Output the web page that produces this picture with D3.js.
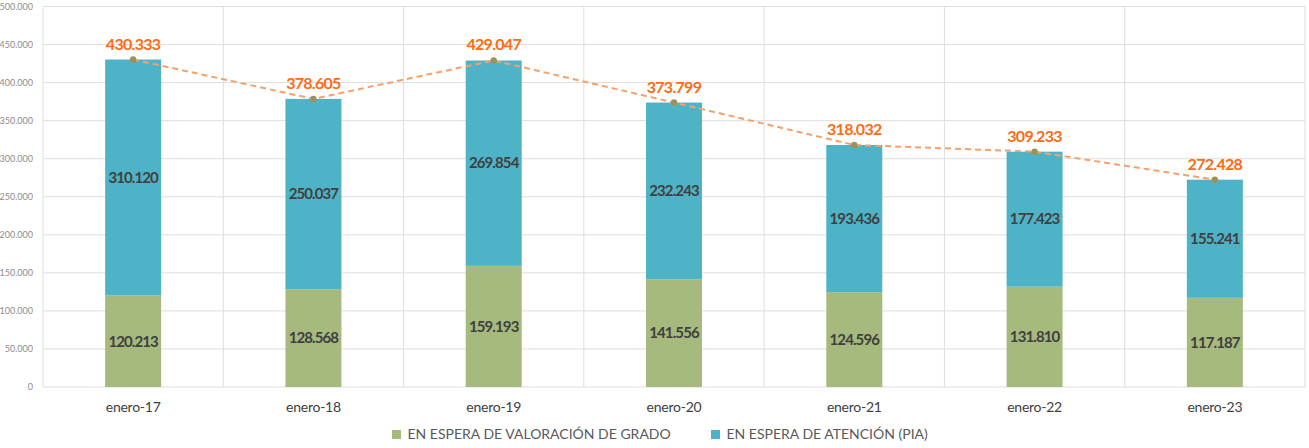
<!DOCTYPE html>
<html><head><meta charset="utf-8">
<script src="https://cdn.jsdelivr.net/npm/d3@7"></script>
<style>body{margin:0;background:#fff}svg{display:block}</style>
</head><body>
<svg id="c" width="1309" height="448"></svg>
<script>
const categories = ["enero-17","enero-18","enero-19","enero-20","enero-21","enero-22","enero-23"];
const valoracion = [120213,128568,159193,141556,124596,131810,117187];
const atencion = [310120,250037,269854,232243,193436,177423,155241];
const totals = [430333,378605,429047,373799,318032,309233,272428];
const yTicks = [0,50000,100000,150000,200000,250000,300000,350000,400000,450000,500000];
const seriesNames = ["EN ESPERA DE VALORACIÓN DE GRADO","EN ESPERA DE ATENCIÓN (PIA)"];

const colors = ["#A6BA7E","#4FB3C7"];
const fmt = v => d3.format(",")(v).replace(/,/g,".");
const svg = d3.select("#c");
const L=43,R=1305,T=6.5,B=387;
const x = d3.scaleBand().domain(categories).range([L,R]);
const y = d3.scaleLinear().domain([0,500000]).range([B,T]);
const bw = 56;
const font = "Lato, 'Open Sans', sans-serif";

// horizontal grid
svg.append("g").selectAll("line").data(yTicks).join("line")
  .attr("x1",L).attr("x2",R).attr("y1",d=>y(d)).attr("y2",d=>y(d))
  .attr("stroke","#dedede").attr("stroke-width",1);
// vertical grid at band boundaries
const bounds = categories.map(c=>x(c)).concat([R]);
svg.append("g").selectAll("line").data(bounds).join("line")
  .attr("x1",d=>d).attr("x2",d=>d).attr("y1",T).attr("y2",B)
  .attr("stroke","#dedede").attr("stroke-width",1);

// y axis labels
const yAxis = d3.axisLeft(y).tickValues(yTicks).tickFormat(fmt).tickSize(0).tickPadding(10);
const ga = svg.append("g").attr("transform",`translate(${L},0)`).call(yAxis);
ga.select(".domain").remove();
ga.selectAll("text").attr("font-family",font).attr("font-size",9).attr("fill","#8c8c8c");

// x axis labels
const xAxis = d3.axisBottom(x).tickSize(0).tickPadding(15);
const gx = svg.append("g").attr("transform",`translate(0,${B})`).call(xAxis);
gx.select(".domain").remove();
gx.selectAll("text").attr("font-family",font).attr("font-size",14).attr("letter-spacing","-0.25px").attr("fill","#404040");

const cx = c => x(c)+x.bandwidth()/2;
// bars
const data = categories.map((c,i)=>({c,a:valoracion[i],b:atencion[i],t:totals[i]}));
const g = svg.append("g");
g.selectAll(".ba").data(data).join("rect")
  .attr("x",d=>cx(d.c)-bw/2).attr("width",bw)
  .attr("y",d=>y(d.a)).attr("height",d=>y(0)-y(d.a)).attr("fill",colors[0]);
g.selectAll(".bb").data(data).join("rect")
  .attr("x",d=>cx(d.c)-bw/2).attr("width",bw)
  .attr("y",d=>y(d.a+d.b)).attr("height",d=>y(d.a)-y(d.a+d.b)).attr("fill",colors[1]);

// segment labels
function segLabels(sel, val, mid){
  sel.attr("x",d=>cx(d.c)).attr("y",mid).attr("dy","0.35em")
    .attr("text-anchor","middle").attr("font-family",font).attr("font-size",15).attr("font-weight",700)
    .attr("letter-spacing","-0.9px").attr("fill","#404040").text(d=>fmt(val(d)));
}
segLabels(g.selectAll(".la").data(data).join("text"), d=>d.a, d=>(y(0)+y(d.a))/2);
segLabels(g.selectAll(".lb").data(data).join("text"), d=>d.b, d=>(y(d.a)+y(d.a+d.b))/2);

// total line
const line = d3.line().x(d=>cx(d.c)).y(d=>y(d.t));
svg.append("path").datum(data).attr("d",line).attr("fill","none")
  .attr("stroke","#F7A06A").attr("stroke-width",2).attr("stroke-dasharray","6,4");
svg.append("g").selectAll("circle").data(data).join("circle")
  .attr("cx",d=>cx(d.c)).attr("cy",d=>y(d.t)).attr("r",3.2).attr("fill","#9E9158");
svg.append("g").selectAll("text").data(data).join("text")
  .attr("x",d=>cx(d.c)).attr("y",d=>y(d.t)-10)
  .attr("text-anchor","middle").attr("font-family",font).attr("font-size",16).attr("font-weight",700)
  .attr("letter-spacing","-0.7px").attr("fill","#FF6A13").text(d=>fmt(d.t));

// legend
const leg = svg.append("g");
const lx = [392,711];
seriesNames.forEach((n,i)=>{
  leg.append("rect").attr("x",lx[i]).attr("y",430).attr("width",9).attr("height",9).attr("fill",colors[i]);
  leg.append("text").attr("x",lx[i]+15.5).attr("y",434.5).attr("dy","0.35em")
    .attr("font-family",font).attr("font-size",14).attr("fill","#595959").text(n);
});
</script>
</body></html>
